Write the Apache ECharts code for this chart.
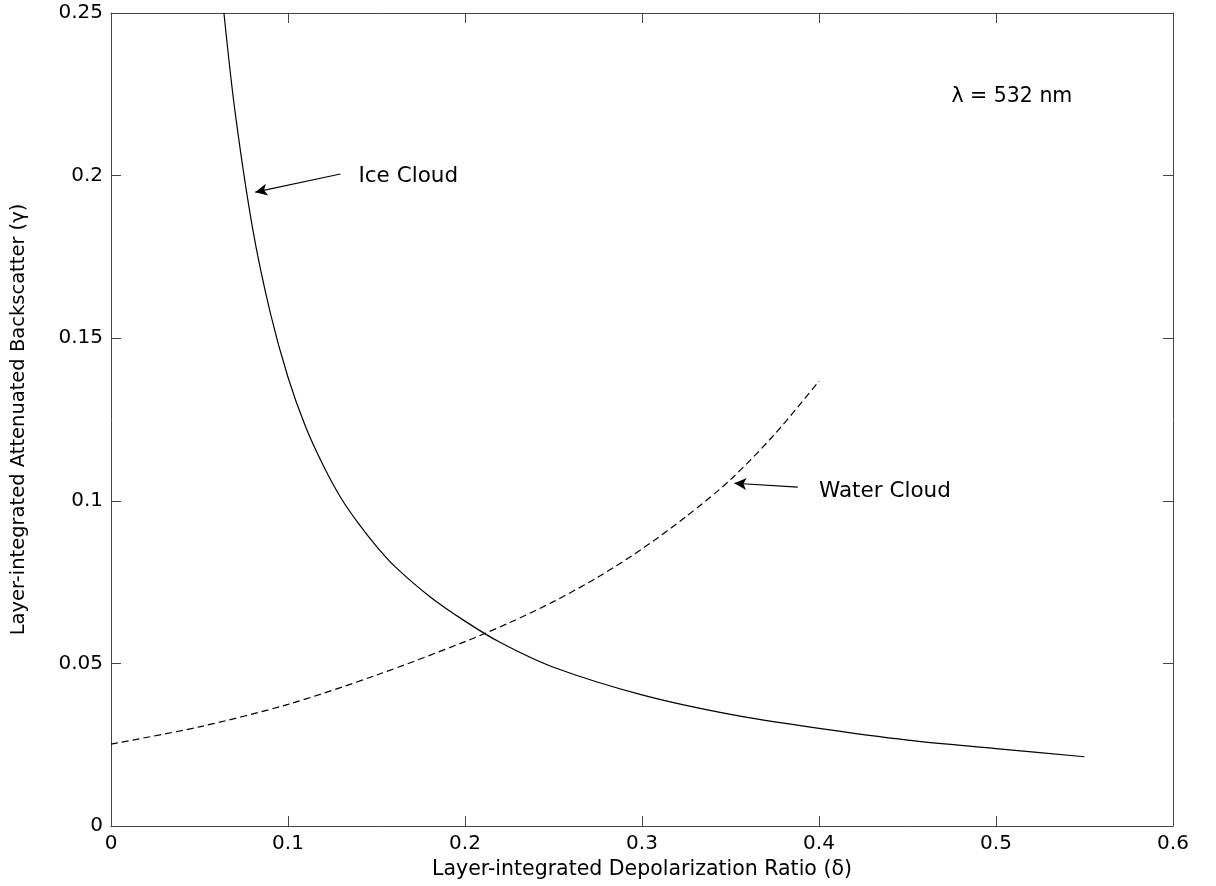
<!DOCTYPE html>
<html>
<head>
<meta charset="utf-8">
<script src="https://cdn.jsdelivr.net/npm/echarts@6/dist/echarts.min.js"></script>
<style>
html,body{margin:0;padding:0;background:#fff;}
#chart{width:1216px;height:886px;}
</style>
</head>
<body>
<div id="chart"></div>
<script>
// Ice cloud curve (depolarization ratio, backscatter)
const iceX = [0.0638, 0.07, 0.08, 0.09, 0.10, 0.11, 0.12, 0.13, 0.14, 0.15, 0.16, 0.18, 0.20, 0.22, 0.25, 0.30, 0.35, 0.40, 0.45, 0.50, 0.55];
const iceY = [0.2500, 0.2200, 0.1838, 0.1578, 0.1380, 0.1227, 0.1108, 0.1008, 0.0929, 0.0860, 0.0800, 0.0706, 0.0630, 0.0564, 0.0488, 0.0403, 0.0343, 0.0300, 0.0264, 0.0238, 0.0213];
// Water cloud curve
const waterX = [0.0, 0.05, 0.10, 0.15, 0.20, 0.225, 0.25, 0.275, 0.30, 0.325, 0.35, 0.375, 0.40];
const waterY = [0.0252, 0.0305, 0.0374, 0.0464, 0.0567, 0.0625, 0.0690, 0.0765, 0.0852, 0.0952, 0.1065, 0.1205, 0.1368];
// Axis ticks
const xTicks = [0, 0.1, 0.2, 0.3, 0.4, 0.5, 0.6];
const yTicks = [0, 0.05, 0.1, 0.15, 0.2, 0.25];
// Annotations
const iceLabel = {text: 'Ice Cloud', x: 0.1398, y: 0.1996};
const iceArrow = {from: [0.1296, 0.2005], to: [0.0815, 0.1949]};
const waterLabel = {text: 'Water Cloud', x: 0.4000, y: 0.1030};
const waterArrow = {from: [0.3880, 0.1042], to: [0.3522, 0.1054]};
const lambdaLabel = {text: 'λ = 532 nm', x: 0.4748, y: 0.2242};

const FONT = '"DejaVu Sans", "Liberation Sans", Arial, sans-serif';
const AXC = '#444';

const chart = echarts.init(document.getElementById('chart'), null, {renderer: 'canvas'});

function pairs(xs, ys){ return xs.map((x,i)=>[x, ys[i]]); }

const xMin = xTicks[0], xMax = xTicks[xTicks.length-1], xInt = xTicks[1]-xTicks[0];
const yMin = yTicks[0], yMax = yTicks[yTicks.length-1], yInt = yTicks[1]-yTicks[0];

function xAxisCfg(pos, show){
  return {
    type: 'value', position: pos, min: xMin, max: xMax, interval: xInt,
    axisLine: {show: true, onZero: false, lineStyle: {color: AXC, width: 1}},
    axisTick: {show: true, inside: true, length: 10, lineStyle: {color: AXC}},
    axisLabel: {show: show, color: '#000', fontSize: 20, fontFamily: FONT, margin: 8},
    splitLine: {show: false},
    name: show ? 'Layer-integrated Depolarization Ratio (δ)' : '',
    nameLocation: 'middle', nameGap: 31,
    nameTextStyle: {color: '#000', fontSize: 20.5, fontFamily: FONT}
  };
}
function yAxisCfg(pos, show){
  return {
    type: 'value', position: pos, min: yMin, max: yMax, interval: yInt,
    axisLine: {show: true, onZero: false, lineStyle: {color: AXC, width: 1}},
    axisTick: {show: true, inside: true, length: 10, lineStyle: {color: AXC}},
    axisLabel: {show: show, color: '#000', fontSize: 20, fontFamily: FONT, margin: 8},
    splitLine: {show: false},
    name: show ? 'Layer-integrated Attenuated Backscatter (γ)' : '',
    nameLocation: 'middle', nameGap: 82,
    nameTextStyle: {color: '#000', fontSize: 19.5, fontFamily: FONT}
  };
}

function textPoint(lbl, size){
  return {
    coord: [lbl.x, lbl.y], symbol: 'circle', symbolSize: 0,
    label: {show: true, position: 'right', distance: 0, formatter: lbl.text,
      color: '#000', fontSize: size, fontFamily: FONT}
  };
}

const option = {
  animation: false,
  backgroundColor: '#fff',
  grid: {left: 111, right: 43, top: 13, bottom: 60, containLabel: false},
  xAxis: [xAxisCfg('bottom', true), xAxisCfg('top', false)],
  yAxis: [yAxisCfg('left', true), yAxisCfg('right', false)],
  series: [
    {
      name: 'Ice Cloud', type: 'line', data: pairs(iceX, iceY),
      smooth: 0.3, showSymbol: false, symbol: 'none',
      lineStyle: {color: '#000', width: 1.2, type: 'solid'}
    },
    {
      name: 'Water Cloud', type: 'line', data: pairs(waterX, waterY),
      smooth: 0.3, showSymbol: false, symbol: 'none',
      lineStyle: {color: '#000', width: 1.2, type: [7, 4]}
    },
    {
      name: 'annotations', type: 'line', data: [], symbol: 'none',
      markLine: {
        silent: true, symbol: ['none', 'arrow'], symbolSize: [9, 12],
        lineStyle: {color: '#000', width: 1.2, type: 'solid'},
        label: {show: false},
        data: [
          [{coord: iceArrow.from}, {coord: iceArrow.to}],
          [{coord: waterArrow.from}, {coord: waterArrow.to}]
        ]
      },
      markPoint: {
        silent: true,
        data: [textPoint(iceLabel, 21.5), textPoint(waterLabel, 21.5), textPoint(lambdaLabel, 20.5)]
      }
    }
  ]
};
chart.setOption(option);
</script>
</body>
</html>
